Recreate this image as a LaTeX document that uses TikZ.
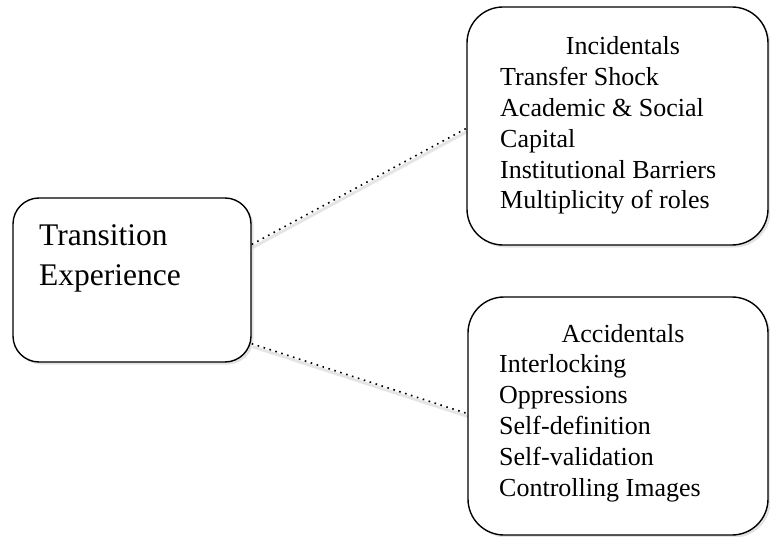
\documentclass[tikz,border=0pt]{standalone}
\usepackage{fontspec}
\setmainfont{Liberation Serif}
\usetikzlibrary{shadows,calc}
\begin{document}
\begin{tikzpicture}[x=1pt,y=-1pt,
  box/.style={draw=black, line width=1.4pt, fill=white, rounded corners=#1,
    drop shadow={opacity=0.22, shadow xshift=2.5pt, shadow yshift=-2.5pt}},
  box/.default=26pt,
  bigtext/.style={font=\fontsize{31.5}{40}\selectfont, inner sep=0pt, anchor=base west},
  headtext/.style={font=\fontsize{26}{30}\selectfont, inner sep=0pt, anchor=base},
  bodytext/.style={font=\fontsize{26}{30}\selectfont, inner sep=0pt, anchor=base west},
  link/.style={line width=1.6pt, dash pattern=on 1.6pt off 4.6pt, line cap=butt},
  linkshadow/.style={line width=3pt, black, opacity=0.10}
]
\useasboundingbox (0,0) rectangle (770,537);

% boxes
\node[box=26pt, minimum width=238pt, minimum height=164pt, inner sep=0pt] (L) at (132,280) {};
\node[box=36pt, minimum width=301pt, minimum height=238pt, inner sep=0pt] (A) at (617.5,126) {};
\node[box=36pt, minimum width=300pt, minimum height=238pt, inner sep=0pt] (B) at (618,416) {};

% texts
\node[bigtext] (Lt1) at (39,245) {Transition};
\node[bigtext] (Lt2) at (39,285) {Experience};

\node[headtext] (Ah) at (623,55) {Incidentals};
\foreach \t [count=\i] in {Transfer Shock,Academic \& Social,Capital,Institutional Barriers,Multiplicity of roles}
  \node[bodytext] (A\i) at (500,{55+30.8*\i}) {\t};

\node[headtext] (Bh) at (623,342) {Accidentals};
\foreach \t [count=\i] in {Interlocking,Oppressions,Self-definition,Self-validation,Controlling Images}
  \node[bodytext] (B\i) at (499,{342+30.8*\i}) {\t};

% connectors
\coordinate (L1) at ($(L.north east)!0.285!(L.south east)$);
\coordinate (L2) at ($(L.north east)!0.885!(L.south east)$);
\coordinate (Ae) at ($(A.north west)!0.51!(A.south west)$);
\coordinate (Be) at ($(B.north west)!0.49!(B.south west)$);

\draw[linkshadow] ([shift={(1,3)}]L1) -- ([shift={(1,3)}]Ae);
\draw[linkshadow] ([shift={(1,3)}]L2) -- ([shift={(1,3)}]Be);
\draw[link] (L1) -- (Ae);
\draw[link] (L2) -- (Be);
\end{tikzpicture}
\end{document}
